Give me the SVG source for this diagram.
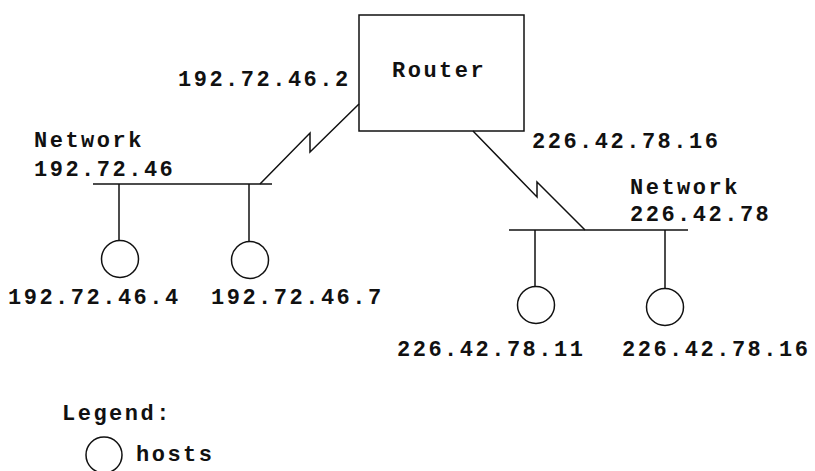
<svg xmlns="http://www.w3.org/2000/svg" width="815" height="471" viewBox="0 0 815 471">
<style>
text{font-family:"Liberation Mono","Courier New",monospace;font-size:22px;font-weight:bold;letter-spacing:2.5px;fill:#111}
.ln{stroke:#111;stroke-width:1.5;fill:none}
.host{stroke:#111;stroke-width:1.5;fill:#fff}
</style>
<rect width="815" height="471" fill="#fff"/>
<g id="connectors">
<polyline class="ln" points="359,104 310,152 310,133 260,184"/>
<polyline class="ln" points="473,131 537,197 537,182 585,230"/>
<line class="ln" x1="93" y1="184" x2="272" y2="184"/>
<line class="ln" x1="119" y1="184" x2="119" y2="240"/>
<line class="ln" x1="249" y1="184" x2="249" y2="241"/>
<line class="ln" x1="509" y1="230" x2="688" y2="230"/>
<line class="ln" x1="535" y1="230" x2="535" y2="286"/>
<line class="ln" x1="665" y1="230" x2="665" y2="288"/>
</g>
<g id="router">
<rect class="ln" x="359" y="15" width="165" height="116"/>
<text x="392" y="77">Router</text>
<text x="178" y="86">192.72.46.2</text>
<text x="532" y="148">226.42.78.16</text>
</g>
<g id="network-192">
<text x="34" y="147">Network</text>
<text x="34" y="176">192.72.46</text>
</g>
<g id="network-226">
<text x="630" y="194">Network</text>
<text x="630" y="221">226.42.78</text>
</g>
<g id="host-192-4">
<circle class="host" cx="120" cy="259" r="18.5"/>
<text x="8" y="304">192.72.46.4</text>
</g>
<g id="host-192-7">
<circle class="host" cx="250" cy="260" r="18.5"/>
<text x="211" y="304">192.72.46.7</text>
</g>
<g id="host-226-11">
<circle class="host" cx="536" cy="305" r="18.5"/>
<text x="397" y="356">226.42.78.11</text>
</g>
<g id="host-226-16">
<circle class="host" cx="665" cy="307" r="18.5"/>
<text x="622" y="356">226.42.78.16</text>
</g>
<g id="legend">
<text x="62" y="420">Legend:</text>
<circle class="host" cx="104" cy="455" r="18"/>
<text x="136" y="461">hosts</text>
</g>
</svg>
